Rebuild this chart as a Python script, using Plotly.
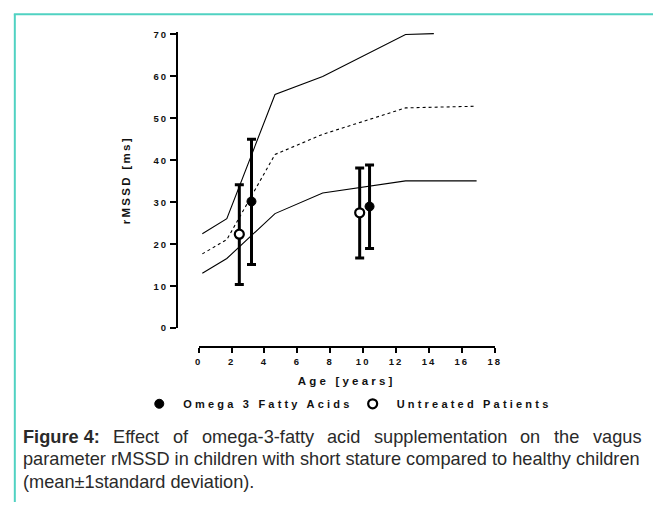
import plotly.graph_objects as go

W, H = 660, 507

# ---- data ----
norm_age = [0.22, 1.71, 4.64, 7.54, 12.58, 16.9]
norm_upper_age = [0.22, 1.71, 4.64, 7.54, 12.58, 14.3]
norm_upper = [22.5, 26.1, 55.7, 60.0, 70.0, 70.2]
norm_median = [17.7, 21.1, 41.4, 46.2, 52.5, 52.9]
norm_lower = [13.1, 16.6, 27.3, 32.2, 35.1, 35.1]

omega_age = [3.21, 10.39]
omega_mean = [30.2, 29.0]
omega_sd_plus = [14.8, 9.9]
omega_sd_minus = [15.0, 10.0]

untreated_age = [2.47, 9.79]
untreated_mean = [22.4, 27.5]
untreated_sd_plus = [11.8, 10.7]
untreated_sd_minus = [12.0, 10.8]

x_ticks = [0, 2, 4, 6, 8, 10, 12, 14, 16, 18]
y_ticks = [0, 10, 20, 30, 40, 50, 60, 70]

series_names = ["Omega 3 Fatty Acids", "Untreated Patients"]
x_title = "Age [years]"
y_title = "rMSSD [ms]"

caption_words_1 = ["<b>Figure 4:</b>", "Effect", "of", "omega-3-fatty", "acid",
                   "supplementation", "on", "the", "vagus"]
caption_line_2 = "parameter rMSSD in children with short stature compared to healthy children"
caption_line_3 = "(mean±1standard deviation)."


# ---- layout helpers (pixel -> paper) ----
def px(x):
    return x / W


def py(y):
    return 1 - y / H


def spaced(text, sp):
    return '<span style="letter-spacing:%spx">%s</span>' % (sp, text)


FONT = "Liberation Sans, Arial, sans-serif"

fig = go.Figure()

line_style = dict(color="black", width=1.1)
fig.add_trace(go.Scatter(x=norm_upper_age, y=norm_upper, mode="lines",
                         line=line_style, showlegend=False, hoverinfo="skip"))
fig.add_trace(go.Scatter(x=norm_age, y=norm_median, mode="lines",
                         line=dict(color="black", width=1.1, dash="dot"),
                         showlegend=False, hoverinfo="skip"))
fig.add_trace(go.Scatter(x=norm_age, y=norm_lower, mode="lines",
                         line=line_style, showlegend=False, hoverinfo="skip"))

fig.add_trace(go.Scatter(
    x=untreated_age, y=untreated_mean, mode="markers", name=spaced(series_names[1], 3.2),
    marker=dict(symbol="circle", size=9, color="white", line=dict(color="black", width=2.2)),
    error_y=dict(type="data", array=untreated_sd_plus, arrayminus=untreated_sd_minus,
                 color="black", thickness=3, width=4.5),
    legend="legend2"))
fig.add_trace(go.Scatter(
    x=omega_age, y=omega_mean, mode="markers", name=spaced(series_names[0], 3.2),
    marker=dict(symbol="circle", size=9, color="black", line=dict(color="black", width=1)),
    error_y=dict(type="data", array=omega_sd_plus, arrayminus=omega_sd_minus,
                 color="black", thickness=3, width=4.5),
    legend="legend"))

tick_font = dict(family=FONT, size=9.5, color="#111", weight="bold")
title_font = dict(family=FONT, size=11.5, color="#111", weight="bold")
legend_font = dict(family=FONT, size=11, color="#111", weight="bold")

fig.update_layout(
    width=W, height=H,
    margin=dict(l=0, r=0, t=0, b=0),
    paper_bgcolor="white", plot_bgcolor="white",
    xaxis=dict(
        domain=[px(198), px(499)], range=[0, 18], anchor="free", position=py(349.5),
        tickvals=x_ticks, ticktext=[spaced(v, 2) for v in x_ticks],
        showline=True, linecolor="black", linewidth=2,
        ticks="outside", ticklen=5, tickwidth=2, tickcolor="black",
        showgrid=False, zeroline=False, tickfont=tick_font,
        title=dict(text=spaced(x_title, 3.2), font=title_font, standoff=10),
    ),
    yaxis=dict(
        domain=[py(330), py(28.9)], range=[0, 70.5], anchor="free", position=px(176),
        tickvals=y_ticks, ticktext=[spaced(v, 2) for v in y_ticks],
        showline=True, linecolor="black", linewidth=2,
        ticks="outside", ticklen=6, tickwidth=2, tickcolor="black",
        showgrid=False, zeroline=False, tickfont=tick_font,
        title=dict(text=spaced(y_title, 2.3), font=title_font, standoff=20),
    ),
    legend=dict(orientation="h", x=px(133.5), y=py(407), xanchor="left", yanchor="middle",
                itemwidth=38, font=legend_font, bgcolor="rgba(0,0,0,0)"),
    legend2=dict(orientation="h", x=px(350.5), y=py(407), xanchor="left", yanchor="middle",
                 itemwidth=38, font=legend_font, bgcolor="rgba(0,0,0,0)"),
)

# border of the figure panel
border = "#50d2c2"
fig.add_shape(type="line", xref="paper", yref="paper", x0=px(11), x1=px(11), y0=0, y1=py(10.5),
              line=dict(color=border, width=2))
fig.add_shape(type="line", xref="paper", yref="paper", x0=px(10), x1=1, y0=py(10.5), y1=py(10.5),
              line=dict(color=border, width=2))

# caption
cap_font = dict(family=FONT, size=18.2, color="#2a2a2a")
word_x = [17.5, 108.9, 169.9, 199.6, 326.4, 374.3, 522.3, 557.0, 596.8]
for wx, wtxt in zip(word_x, caption_words_1):
    fig.add_annotation(text=wtxt, x=px(wx), y=py(440.5), xref="paper", yref="paper",
                       xanchor="left", yanchor="middle", showarrow=False, font=cap_font)
fig.add_annotation(text=caption_line_2, x=px(17.5), y=py(463.5), xref="paper", yref="paper",
                   xanchor="left", yanchor="middle", showarrow=False, font=cap_font)
fig.add_annotation(text=caption_line_3, x=px(17.5), y=py(486.5), xref="paper", yref="paper",
                   xanchor="left", yanchor="middle", showarrow=False, font=cap_font)

post = "document.body.style.margin='0';document.body.style.overflow='hidden';"

fig.write_html("out.html", post_script=post, config={"displayModeBar": False})
